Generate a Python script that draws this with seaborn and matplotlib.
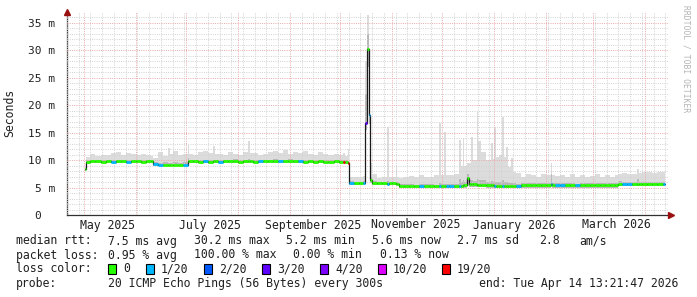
import numpy as np
import pandas as pd
import matplotlib
matplotlib.use("Agg")
import matplotlib.pyplot as plt
import matplotlib.dates as mdates
from matplotlib.patches import Rectangle
from matplotlib.transforms import blended_transform_factory
import seaborn as sns

# ---------------- data ----------------
start_time = "2025-04-21 00:00:00"
end_time = "2026-04-14 13:21:47"

# day offsets from start_time
days = [10.5, 11.5, 14, 17, 20, 23, 26, 29, 32, 35, 38, 41, 44, 47, 50,
        51.5, 54, 57, 60, 61.5, 63, 66, 69,
        72, 73, 75, 78, 81, 84, 87, 88, 90, 93, 96, 99, 102, 105, 108, 109,
        111, 114, 117, 120, 123, 126, 129, 132, 135, 138, 141, 144, 147, 150,
        153, 156, 159, 162, 164.5, 166, 167.5,
        168.5, 171, 174, 176.5, 178, 179, 180, 181, 182, 185, 188, 191, 192,
        194, 196, 197,
        198, 201, 204, 207, 210, 213, 216, 219, 222, 223, 225, 226, 228, 231,
        234, 235, 236, 237, 238.5, 240, 241, 242, 244.5, 245.5, 247, 250, 253,
        254, 255, 256, 257.5, 259.5, 260.5, 262, 263, 265, 266, 268,
        271, 274, 277, 280, 283, 286, 288.5, 289.5, 291, 294, 297, 300, 303,
        306, 309, 312, 315, 318, 321, 324, 327,
        328.5, 331, 334, 337, 340, 341, 343, 346, 349, 352, 355.5]

median_ms = [8.3, 9.7, 9.8, 9.8, 9.7, 9.8, 9.7, 9.8, 9.8, 9.7, 9.8, 9.8, 9.7, 9.8, 9.8,
             9.3, 9.2, 9.2, 9.2, 9.2, 9.2, 9.2, 9.2,
             9.9, 9.8, 9.8, 9.7, 9.8, 9.7, 9.8, 9.8, 9.7, 9.8, 9.8, 9.8, 9.7, 9.8, 9.8, 9.8,
             9.7, 9.8, 9.8, 9.8, 9.9, 9.8, 9.8, 9.9, 9.8, 9.8, 9.7, 9.8, 9.7, 9.8,
             9.7, 9.7, 9.8, 9.7, 9.7, 9.6, 9.4,
             5.8, 5.8, 5.8, 5.9, 16.7, 30.3, 18.2, 6.4, 5.8, 5.8, 5.8, 5.7, 5.8,
             5.8, 5.7, 5.7,
             5.2, 5.2, 5.2, 5.2, 5.2, 5.2, 5.2, 5.2, 5.2, 5.2, 5.2, 5.2, 5.2, 5.2,
             5.3, 5.3, 5.4, 5.4, 6.7, 5.6, 5.6, 5.6, 5.5, 5.5, 5.5, 5.4, 5.4,
             5.4, 5.3, 5.3, 5.3, 5.3, 5.3, 5.3, 5.3, 5.3, 5.3, 5.3,
             5.4, 5.4, 5.4, 5.4, 5.4, 5.4, 5.7, 5.4, 5.4, 5.4, 5.4, 5.4, 5.4,
             5.4, 5.4, 5.4, 5.4, 5.4, 5.4, 5.4, 5.4,
             5.7, 5.7, 5.7, 5.7, 5.7, 5.7, 5.7, 5.6, 5.7, 5.6, 5.6]

smoke_lo_ms = [8.1, 9.4, 9.5, 9.5, 9.4, 9.5, 9.4, 9.5, 9.4, 9.4, 9.5, 9.5, 9.4, 9.5, 9.4,
               9.0, 8.9, 8.9, 8.9, 8.9, 8.9, 8.9, 8.9,
               9.5, 9.5, 9.5, 9.4, 9.5, 9.4, 9.5, 9.5, 9.4, 9.5, 9.5, 9.5, 9.4, 9.5, 9.5, 9.5,
               9.4, 9.5, 9.5, 9.5, 9.5, 9.5, 9.5, 9.5, 9.5, 9.4, 9.4, 9.5, 9.4, 9.5,
               9.4, 9.4, 9.5, 9.4, 9.4, 9.3, 9.1,
               5.5, 5.5, 5.5, 5.5, 15.5, 27.0, 16.5, 5.8, 5.5, 5.5, 5.5, 5.4, 5.5,
               5.5, 5.4, 5.4,
               5.0, 5.0, 5.0, 5.0, 5.0, 5.0, 5.0, 5.0, 5.0, 5.0, 5.0, 5.0, 5.0, 5.0,
               5.0, 5.0, 5.0, 5.0, 5.2, 5.1, 5.1, 5.1, 5.1, 5.1, 5.1, 5.0, 5.0,
               5.0, 5.0, 5.0, 5.0, 5.0, 5.0, 5.0, 5.0, 5.0, 5.0, 5.0,
               5.0, 5.0, 5.0, 5.0, 5.0, 5.0, 5.1, 5.0, 5.0, 5.0, 5.0, 5.0, 5.0,
               5.0, 5.0, 5.0, 5.0, 5.0, 5.0, 5.0, 5.0,
               5.3, 5.3, 5.3, 5.3, 5.3, 5.3, 5.3, 5.3, 5.3, 5.3, 5.3]

smoke_mid_ms = [8.4, 10.0, 10.1, 10.0, 10.0, 10.1, 10.0, 10.1, 10.0, 10.0, 10.1, 10.0, 10.0, 10.1, 10.0,
                9.6, 9.5, 9.6, 9.5, 9.5, 9.6, 9.5, 9.6,
                10.3, 10.1, 10.1, 10.0, 10.1, 10.0, 10.1, 10.1, 10.0, 10.1, 10.1, 10.2, 10.0, 10.1, 10.2, 10.1,
                10.0, 10.1, 10.1, 10.0, 10.2, 10.1, 10.1, 10.2, 10.1, 10.0, 10.0, 10.1, 10.0, 10.1,
                10.0, 10.0, 10.1, 10.0, 10.1, 10.0, 9.8,
                6.2, 6.1, 6.1, 6.2, 22.0, 33.0, 22.0, 7.0, 6.2, 6.1, 6.1, 6.2, 6.1,
                6.1, 6.1, 6.1,
                5.6, 5.6, 5.6, 5.5, 5.6, 5.6, 5.6, 5.5, 5.8, 5.6, 5.7, 5.6, 5.6, 5.6,
                6.5, 6.0, 6.3, 6.0, 7.5, 6.3, 6.3, 6.2, 6.5, 6.3, 6.3, 6.0, 6.2,
                6.0, 6.0, 6.0, 6.0, 6.3, 6.0, 6.0, 5.9, 5.9, 5.8, 5.7,
                5.8, 5.8, 5.8, 5.8, 5.8, 5.8, 7.5, 5.8, 5.8, 5.8, 5.8, 5.8, 5.7,
                5.8, 5.8, 5.8, 5.8, 5.8, 5.8, 5.8, 5.8,
                6.2, 6.1, 6.1, 6.1, 6.6, 6.1, 6.1, 6.1, 6.1, 6.0, 6.1]

smoke_hi_ms = [8.8, 10.6, 11.2, 10.8, 11.0, 10.9, 11.3, 11.5, 11.0, 11.3, 11.1, 10.9, 11.2, 11.0, 10.8,
               10.3, 11.4, 10.8, 12.3, 11.2, 11.6, 11.0, 11.2,
               12.8, 11.2, 11.0, 11.4, 11.6, 11.3, 12.6, 11.2, 11.2, 11.0, 11.4, 11.2, 11.0, 11.5, 13.4, 11.3,
               11.3, 11.0, 11.2, 11.4, 11.6, 11.3, 11.8, 11.2, 11.5, 11.3, 11.6, 11.2, 11.0, 11.4,
               11.2, 11.0, 11.2, 11.0, 11.3, 10.8, 12.1,
               7.0, 6.9, 6.9, 7.1, 28.0, 36.5, 27.0, 9.5, 7.4, 6.8, 6.9, 16.0, 7.0,
               7.0, 9.1, 7.0,
               6.8, 7.0, 7.1, 6.9, 7.2, 7.0, 7.0, 7.3, 16.7, 7.2, 15.2, 7.2, 7.2, 7.4,
               13.7, 9.0, 14.0, 9.0, 9.5, 9.5, 14.3, 10.0, 18.8, 13.4, 11.5, 10.0, 13.1,
               10.2, 16.1, 10.5, 10.9, 17.9, 10.6, 12.4, 8.8, 10.4, 7.8, 7.6,
               7.0, 7.5, 7.3, 7.0, 7.4, 7.2, 9.5, 7.2, 7.1, 7.3, 7.0, 7.4, 7.0,
               7.2, 7.0, 7.1, 7.4, 7.0, 7.2, 7.0, 7.3,
               7.5, 7.6, 7.5, 7.4, 8.4, 7.6, 7.8, 7.9, 7.6, 7.9, 7.8]

loss = [0, 0, 0, 0, 0, 0, 1, 0, 0, 1, 0, 0, 0, 0, 0,
        1, 1, 0, 0, 0, 0, 0, 1,
        0, 0, 0, 0, 1, 0, 0, 0, 1, 0, 0, 0, 0, 0, 0, 0,
        0, 1, 0, 0, 0, 1, 0, 0, 0, 1, 0, 0, 0, 0,
        0, 0, 0, 0, 19, 0, 19,
        1, 0, 0, 1, 3, 0, 1, 0, 0, 0, 0, 1, 0,
        0, 0, 0,
        0, 0, 0, 0, 1, 0, 0, 0, 1, 0, 0, 1, 1, 0,
        1, 0, 0, 0, 0, 0, 0, 0, 0, 0, 0, 0, 0,
        0, 1, 0, 0, 1, 0, 0, 0, 0, 0, 1,
        0, 0, 0, 0, 0, 0, 1, 0, 1, 1, 0, 0, 1,
        0, 0, 0, 0, 0, 0, 0, 0,
        0, 1, 1, 0, 0, 0, 0, 0, 0, 0, 1]

loss_levels = [0, 1, 2, 3, 4, 10, 19]
loss_labels = ["0", "1/20", "2/20", "3/20", "4/20", "10/20", "19/20"]
loss_colors = ["#26ff00", "#00b8ff", "#0059ff", "#5e00ff", "#7e00ff", "#dd00ff", "#ff0000"]

y_ticks = [0, 5, 10, 15, 20, 25, 30, 35]
y_tick_labels = ["0  ", "5 m", "10 m", "15 m", "20 m", "25 m", "30 m", "35 m"]
x_label_dates = ["2025-05-15", "2025-07-15", "2025-09-15", "2025-11-15", "2026-01-13", "2026-03-15"]
x_labels = ["May 2025", "July 2025", "September 2025", "November 2025", "January 2026", "March 2026"]

rtt_items = [("median rtt:", 16), ("7.5 ms avg", 108), ("30.2 ms max", 194), ("5.2 ms min", 286),
             ("5.6 ms now", 372), ("2.7 ms sd", 457), ("2.8", 539), ("am/s", 579)]
loss_items = [("packet loss:", 16), ("0.95 % avg", 108), ("100.00 % max", 194),
              ("0.00 % min", 293), ("0.13 % now", 380)]
probe_text = "20 ICMP Echo Pings (56 Bytes) every 300s"
end_text = "end: Tue Apr 14 13:21:47 2026"

n = len(days)
assert all(len(a) == n for a in [median_ms, smoke_lo_ms, smoke_mid_ms, smoke_hi_ms, loss]), \
    [len(a) for a in [days, median_ms, smoke_lo_ms, smoke_mid_ms, smoke_hi_ms, loss]]

# ---------------- figure ----------------
W, H = 697, 297
sns.set_style("white")
plt.rcParams["font.family"] = ["DejaVu Sans Mono"]
fig = plt.figure(figsize=(W / 100, H / 100), dpi=100)
ax = fig.add_axes([67 / W, (H - 215) / H, 601 / W, (215 - 12) / H])

t0 = pd.Timestamp(start_time)
t_end = pd.Timestamp(end_time)
dates = [t0 + pd.Timedelta(days=d) for d in days]
xn = mdates.date2num(dates)
x_end = mdates.date2num(t_end)
edges = np.append(xn, xn[-1] + (xn[-1] - xn[-2]) * 0.35)

def ext(v):
    return np.append(np.asarray(v, float), v[-1])

# smoke
ax.fill_between(edges, ext(smoke_lo_ms), ext(smoke_hi_ms), step="post",
                color="#dcdcdc", lw=0, zorder=1)
ax.fill_between(edges, ext(smoke_lo_ms), ext(smoke_mid_ms), step="post",
                color="#b8b8b8", lw=0, zorder=1.1)

# thin black median step line
sns.lineplot(x=edges, y=ext(median_ms), drawstyle="steps-post", color="#1a1a1a",
             lw=0.9, ax=ax, zorder=3, estimator=None, sort=False)

# loss-coloured median segments
cmap = dict(zip(loss_levels, loss_colors))
for i in range(n):
    ax.hlines(median_ms[i], edges[i], edges[i + 1], color=cmap[loss[i]],
              lw=2.0, zorder=4)

# limits
x_start = mdates.date2num(t_end - pd.Timedelta(days=358.56))
ax.set_xlim(x_start, x_end)
ax.set_ylim(0, 37.0)

# grids
ax.set_axisbelow(False)
ax.xaxis.set_major_locator(mdates.MonthLocator())
ax.xaxis.set_minor_locator(mdates.WeekdayLocator(byweekday=mdates.MO))
ax.set_yticks(y_ticks)
ax.set_yticks(np.arange(0, 37, 1), minor=True)
ax.grid(which="minor", color="#d2d2d2", lw=0.7, ls=(0, (1, 1.3)), zorder=2.5)
ax.grid(which="major", color="#eba8a8", lw=0.7, ls=(0, (1, 1.3)), zorder=2.6)
ax.set_xticklabels([])
ax.set_yticklabels(y_tick_labels, fontsize=8)
ax.tick_params(axis="y", which="major", length=2.5, width=0.7, color="#404040", pad=6,
               labelcolor="#202020")
ax.tick_params(axis="x", which="major", length=2.5, width=0.7, color="#404040")
ax.tick_params(which="minor", length=0)

for s in ["top", "right"]:
    ax.spines[s].set_visible(False)
for s in ["left", "bottom"]:
    ax.spines[s].set_color("#303030")
    ax.spines[s].set_linewidth(0.9)

# arrows
ax.plot([0], [1.0], marker="^", color="#9a1010", markersize=4.5, clip_on=False,
        transform=ax.transAxes, zorder=6)
ax.plot([1.005], [0], marker=">", color="#9a1010", markersize=4.5, clip_on=False,
        transform=ax.transAxes, zorder=6)

# x labels at mid months
tr = blended_transform_factory(ax.transData, fig.transFigure)
for d, lab in zip(x_label_dates, x_labels):
    ax.text(mdates.date2num(pd.Timestamp(d)), 1 - 225 / H, lab, transform=tr,
            ha="center", va="center", fontsize=8.3, color="#202020")

# y label
fig.text(10 / W, 1 - 113 / H, "Seconds", rotation=90, ha="center", va="center",
         fontsize=8.3, color="#202020")

# watermark
fig.text(686 / W, 1 - 5 / H, "RRDTOOL / TOBI OETIKER", rotation=270, ha="center",
         va="top", fontsize=5.8, color="#b4b4b4")

# legend area
fs = 8.3
def ftext(x, y, s):
    fig.text(x / W, 1 - y / H, s, ha="left", va="center", fontsize=fs, color="#202020")

for s, x in rtt_items:
    ftext(x, 241, s)
for s, x in loss_items:
    ftext(x, 255, s)
ftext(16, 269, "loss color:")
box_x = [108, 146, 204, 262, 320, 378, 442]
for bx, col, lab in zip(box_x, loss_colors, loss_labels):
    fig.add_artist(Rectangle((bx / W, 1 - 274 / H), 8 / W, 10 / H,
                             transform=fig.transFigure, facecolor=col,
                             edgecolor="black", lw=0.8))
    ftext(bx + 15, 269, lab)
ftext(16, 283, "probe:")
ftext(108, 283, probe_text)
ftext(479, 283, end_text)

fig.savefig("out.png", dpi=100)
